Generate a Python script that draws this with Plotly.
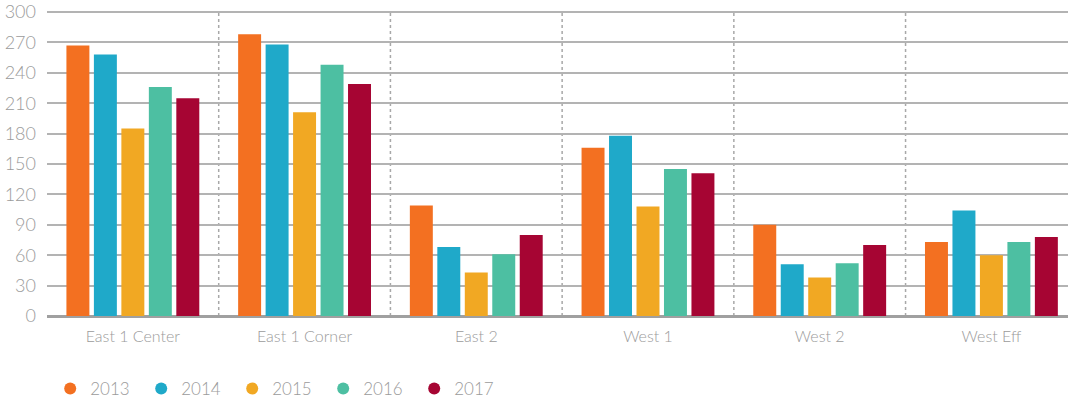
import plotly.graph_objects as go

categories = ["East 1 Center", "East 1 Corner", "East 2", "West 1", "West 2", "West Eff"]
years = ["2013", "2014", "2015", "2016", "2017"]
v2013 = [267, 278, 109, 166, 90, 73]
v2014 = [258, 268, 68, 178, 51, 104]
v2015 = [185, 201, 43, 108, 38, 60]
v2016 = [226, 248, 61, 145, 52, 73]
v2017 = [215, 229, 80, 141, 70, 78]
y_ticks = [0, 30, 60, 90, 120, 150, 180, 210, 240, 270, 300]

colors = ["#F37021", "#1FA9C9", "#F1A823", "#4DBFA2", "#A60533"]
series = [v2013, v2014, v2015, v2016, v2017]

FONT = "Lato"
GREY = "#9b9b9b"

fig = go.Figure()
for name, vals, col in zip(years, series, colors):
    fig.add_trace(go.Bar(x=categories, y=vals, name=name, marker_color=col,
                         marker_line_width=0, showlegend=False))
# circular legend swatches
for name, col in zip(years, colors):
    fig.add_trace(go.Scatter(x=[None], y=[None], mode="markers", name=name,
                             marker=dict(symbol="circle", size=14, color=col)))

# dotted separators between categories
for i in range(len(categories) - 1):
    fig.add_shape(type="line", xref="x", yref="y", x0=i + 0.5, x1=i + 0.5, y0=0, y1=301,
                  line=dict(color="#a8a8a8", width=1.5, dash="dot"), layer="below")

fig.update_layout(
    width=1068, height=406,
    margin=dict(l=47, r=0, t=9, b=90),
    paper_bgcolor="white", plot_bgcolor="white",
    barmode="group", bargap=0.2, bargroupgap=0.164,
    font=dict(family=FONT, color=GREY, size=16, weight=300),
    legend=dict(orientation="h", xref="container", yref="container",
                x=0.047, y=0.042, xanchor="left", yanchor="middle",
                entrywidth=46, entrywidthmode="pixels",
                font=dict(size=17, color=GREY, family=FONT, weight=300),
                itemsizing="constant"),
    xaxis=dict(range=[-0.5, 5.446], showgrid=False, showline=False, zeroline=False,
               ticks="", tickfont=dict(size=16), ticklabelstandoff=9, fixedrange=True),
    yaxis=dict(range=[0, 301], tickvals=y_ticks, showgrid=True, gridcolor="#b3b3b3",
               gridwidth=1.5, zeroline=True, zerolinecolor="#a0a0a0", zerolinewidth=2.5,
               showline=False, ticks="", tickfont=dict(size=18), ticklabelstandoff=10,
               ticklabeloverflow="allow"),
)

fig.write_html("out.html")
